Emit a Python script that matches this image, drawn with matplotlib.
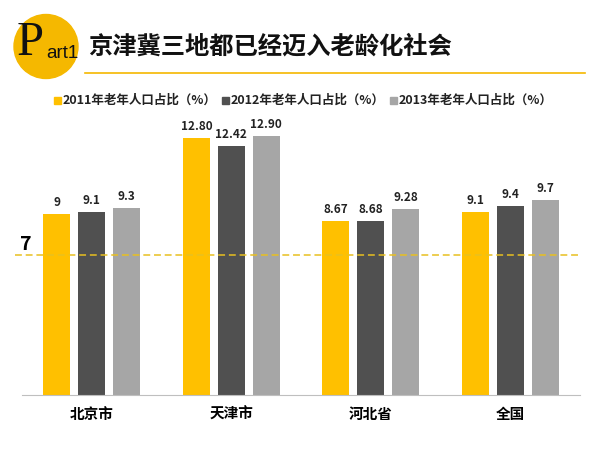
import matplotlib.pyplot as plt
import numpy as np
from matplotlib.patches import Ellipse, Rectangle

plt.rcParams['font.family'] = ['Noto Sans CJK SC', 'DejaVu Sans']

regions = ['北京市', '天津市', '河北省', '全国']
series_names = ['2011年老年人口占比（%）', '2012年老年人口占比（%）', '2013年老年人口占比（%）']
v2011 = [9, 12.80, 8.67, 9.1]
v2012 = [9.1, 12.42, 8.68, 9.4]
v2013 = [9.3, 12.90, 9.28, 9.7]
lbl2011 = ['9', '12.80', '8.67', '9.1']
lbl2012 = ['9.1', '12.42', '8.68', '9.4']
lbl2013 = ['9.3', '12.90', '9.28', '9.7']
threshold = 7

colors = ['#FFC000', '#505050', '#A6A6A6']

fig = plt.figure(figsize=(6, 4.5), dpi=100)
ax = fig.add_axes([22 / 600, 55 / 450, 558 / 600, 281 / 450])

x = np.arange(len(regions))
w = 0.195
off = 0.25
for i, (vals, lbls) in enumerate(zip([v2011, v2012, v2013], [lbl2011, lbl2012, lbl2013])):
    bars = ax.bar(x + (i - 1) * off, vals, w, color=colors[i], label=series_names[i])
    for b, t in zip(bars, lbls):
        ax.text(b.get_x() + b.get_width() / 2, b.get_height() + 0.25, t,
                ha='center', va='bottom', fontsize=8.5, fontweight='bold', color='#222222')

ax.axhline(threshold, color='#E8C020', ls=(0, (4.5, 2.5)), lw=1.1,
           xmin=-0.0125, xmax=1.0, zorder=3, clip_on=False)
ax.set_xlim(-0.5, 3.5)
ax.set_ylim(0, 14)
ax.set_xticks(x)
ax.set_xticklabels(regions, fontsize=10.5, fontweight='bold')
ax.tick_params(axis='x', length=0, pad=8)
ax.set_yticks([])
for s in ['top', 'right', 'left']:
    ax.spines[s].set_visible(False)
ax.spines['bottom'].set_color('#BFBFBF')

fig.text(20 / 600, 1 - 245 / 450, '7', fontsize=14, fontweight='bold', va='center', ha='left')

# legend - small squares + text
leg_x = [54, 222, 390]
for i in range(3):
    fig.patches.append(Rectangle((leg_x[i] / 600, 1 - 104 / 450), 7 / 600, 7 / 450,
                                 transform=fig.transFigure, color=colors[i]))
    fig.text((leg_x[i] + 9) / 600, 1 - 100 / 450, series_names[i], fontsize=9,
             fontweight='bold', va='center', ha='left', color='#222222')

# header
fig.patches.append(Ellipse((46 / 600, 1 - 46.5 / 450), 64 / 600, 64 / 450,
                           transform=fig.transFigure, color='#F5B800', zorder=0))
fig.text(17 / 600, 1 - 43 / 450, 'P', fontsize=35, family=['Liberation Serif'],
         va='center', ha='left', color='#111111')
fig.text(46 / 600, 1 - 53 / 450, 'art1', fontsize=13.5, family=['Liberation Sans'],
         va='center', ha='left', color='#111111')
fig.text(88 / 600, 1 - 47 / 450, '京津冀三地都已经迈入老龄化社会', fontsize=17.5,
         fontweight='bold', va='center', ha='left', color='#111111')
fig.add_artist(plt.Line2D([85 / 600, 585 / 600], [1 - 73 / 450, 1 - 73 / 450],
                          color='#F5B800', lw=1.2, transform=fig.transFigure))

fig.savefig('out.png', dpi=100)
